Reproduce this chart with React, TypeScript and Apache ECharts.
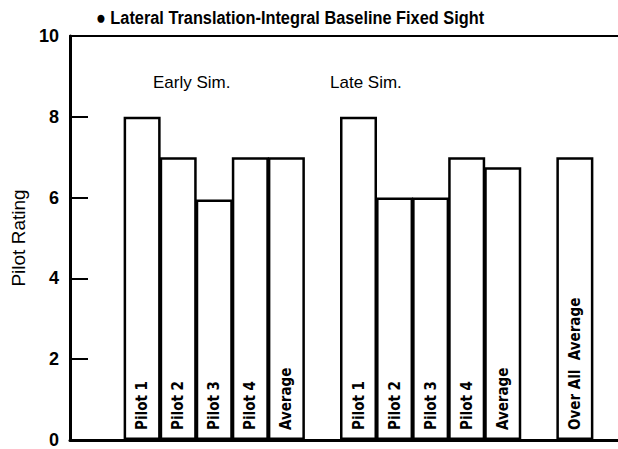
import React, { useEffect, useRef } from "react";
import * as echarts from "echarts";

const titleText = "● Lateral Translation-Integral Baseline Fixed Sight";
const yAxisName = "Pilot Rating";
const groupLabels = ["Early Sim.", "Late Sim."];
// spacer categories are empty strings
const categories = [
  "", "",
  "Pilot 1", "Pilot 2", "Pilot 3", "Pilot 4", "Average",
  "",
  "Pilot 1", "Pilot 2", "Pilot 3", "Pilot 4", "Average",
  "",
  "Over All  Average",
  "", "",
];
const ratings: (number | null)[] = [
  null, null,
  8, 7, 5.95, 7, 7,
  null,
  8, 6, 6, 7, 6.75,
  null,
  7,
  null, null,
];
const yTicks = [0, 2, 4, 6, 8, 10];

const NARROW = "'Liberation Sans Narrow', 'DejaVu Sans Condensed', 'Arial Narrow', sans-serif";
const SANS = "'Liberation Sans', Arial, Helvetica, sans-serif";

export default function App() {
  const ref = useRef<HTMLDivElement>(null);
  useEffect(() => {
    if (!ref.current) return;
    const chart = echarts.init(ref.current, null, { renderer: "svg" });
    chart.setOption({
      animation: false,
      backgroundColor: "#fff",
      grid: { left: 70, top: 36, bottom: 6, right: 0 },
      xAxis: [
        {
          type: "category",
          data: categories,
          boundaryGap: false,
          axisLine: { show: true, lineStyle: { color: "#000", width: 3 } },
          axisTick: { show: false },
          axisLabel: { show: false },
          splitLine: { show: false },
        },
        {
          type: "category",
          data: categories,
          position: "top",
          boundaryGap: false,
          axisLine: { show: true, lineStyle: { color: "#000", width: 2 } },
          axisTick: { show: false },
          axisLabel: { show: false },
        },
      ],
      yAxis: {
        type: "value",
        min: yTicks[0],
        max: yTicks[yTicks.length - 1],
        interval: 2,
        name: yAxisName,
        nameLocation: "middle",
        nameGap: 41,
        nameTextStyle: { fontFamily: SANS, fontSize: 19, color: "#000" },
        axisLine: { show: true, lineStyle: { color: "#000", width: 3 } },
        axisTick: { show: true, inside: true, length: 18, lineStyle: { color: "#000", width: 2 } },
        axisLabel: { fontFamily: SANS, fontWeight: "bold", fontSize: 18, color: "#000", margin: 11 },
        splitLine: { show: false },
      },
      series: [
        {
          type: "bar",
          data: ratings,
          barWidth: 37,
          itemStyle: { color: "#fff", borderColor: "#000", borderWidth: 2.5 },
          label: {
            show: true,
            position: "insideBottom",
            rotate: 90,
            align: "left",
            verticalAlign: "middle",
            distance: 10,
            formatter: "{b}",
            fontFamily: NARROW,
            fontWeight: "bold",
            fontSize: 15,
            color: "#000",
          },
        },
      ],
      graphic: [
        {
          type: "text",
          x: 290,
          y: 8,
          scaleX: 0.86,
          style: {
            text: titleText,
            textAlign: "center",
            fontFamily: SANS,
            fontWeight: "bold",
            fontSize: 19,
            fill: "#000",
          },
        },
        {
          type: "text",
          left: 153,
          top: 74,
          style: { text: groupLabels[0], fontFamily: SANS, fontSize: 17, fill: "#000" },
        },
        {
          type: "text",
          left: 330,
          top: 74,
          style: { text: groupLabels[1], fontFamily: SANS, fontSize: 17, fill: "#000" },
        },
      ],
    });
    return () => chart.dispose();
  }, []);
  return (
    <div
      ref={ref}
      style={{ position: "fixed", left: 0, top: 0, width: 647, height: 449, background: "#fff" }}
    />
  );
}
